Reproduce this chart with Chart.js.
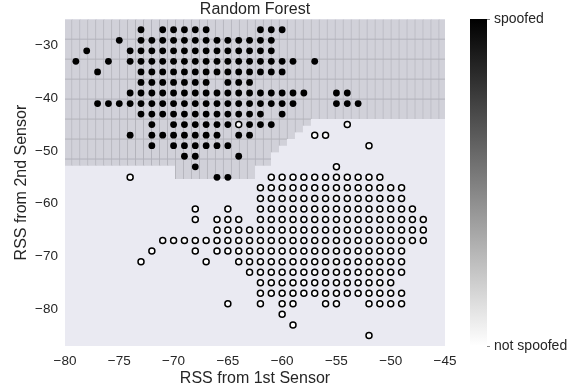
<!DOCTYPE html>
<html>
<head>
<meta charset="utf-8">
<script src="https://cdn.jsdelivr.net/npm/chart.js@4"></script>
<style>
  html, body { margin: 0; padding: 0; background: #fff; }
  #wrap { position: relative; width: 576px; height: 389px; }
  #mainChart { position: absolute; left: 0; top: 0; }
  #barChart { position: absolute; left: 460px; top: 0; }
</style>
</head>
<body>
<div id="wrap">
  <canvas id="mainChart" width="576" height="389"></canvas>
  <canvas id="barChart" width="116" height="389"></canvas>
</div>
<script>
// points classified as spoofed (filled), one list of x per row
const spoofedY = [-27, -29, -31, -33, -35, -37, -39, -41, -43, -45, -47, -49, -51, -53, -55];
const spoofedX = [
  [-73, -71, -70, -69, -68, -67, -62, -61, -60],
  [-75, -73, -72, -71, -70, -69, -68, -67, -66, -65, -64, -63, -62, -61],
  [-78, -74, -73, -72, -71, -70, -69, -68, -67, -66, -65, -64, -63, -62, -61],
  [-79, -76, -74, -73, -72, -71, -70, -69, -68, -67, -66, -65, -64, -63, -62, -61, -60, -59, -57],
  [-77, -73, -72, -71, -70, -69, -68, -67, -66, -65, -64, -63, -62, -61, -60],
  [-73, -72, -71, -70, -69, -68, -67, -65, -64, -63],
  [-74, -73, -72, -71, -70, -69, -68, -67, -66, -65, -64, -63, -62, -61, -60, -59, -58, -55, -54],
  [-77, -76, -75, -74, -73, -72, -71, -70, -69, -68, -67, -66, -65, -64, -63, -62, -61, -60, -59, -55, -54, -53],
  [-73, -72, -71, -70, -69, -68, -67, -66, -65, -64, -63, -62, -60],
  [-72, -70, -69, -68, -67, -66, -65, -63, -62, -61],
  [-74, -72, -71, -70, -69, -68, -67, -66, -64, -63],
  [-72, -70, -69, -68, -67, -66, -65],
  [-69, -68, -64],
  [-68],
  [-66, -65]
];

// points classified as not spoofed (hollow)
const genuineY = [-45, -47, -49, -53, -55, -57, -59, -61, -63, -65, -67, -69, -71, -73, -75, -77, -79, -81, -83, -85];
const genuineX = [
  [-64, -54],
  [-57, -56],
  [-52],
  [-55],
  [-74, -61, -60, -59, -58, -57, -56, -55, -54, -53, -52, -51],
  [-62, -61, -60, -59, -58, -57, -56, -55, -54, -53, -52, -51, -50, -49],
  [-62, -61, -60, -59, -58, -57, -56, -55, -54, -53, -52, -51, -50, -49],
  [-68, -65, -62, -61, -60, -59, -58, -57, -56, -55, -54, -53, -52, -51, -50, -49, -48],
  [-68, -66, -65, -64, -62, -61, -60, -59, -58, -57, -56, -55, -54, -53, -52, -51, -50, -49, -48, -47],
  [-66, -65, -64, -63, -62, -61, -60, -59, -58, -57, -56, -55, -54, -53, -52, -51, -50, -49, -48, -47],
  [-71, -70, -69, -68, -67, -66, -65, -64, -63, -62, -61, -60, -59, -58, -57, -56, -55, -54, -53, -52, -51, -50, -49, -48, -47],
  [-72, -68, -66, -65, -64, -63, -62, -61, -60, -59, -58, -57, -56, -55, -54, -53, -52, -51, -50, -49],
  [-73, -67, -64, -63, -62, -61, -60, -59, -58, -57, -56, -55, -54, -53, -52, -51, -50, -49],
  [-63, -62, -61, -60, -59, -58, -57, -56, -55, -54, -53, -52, -51, -50, -49],
  [-62, -61, -60, -59, -58, -57, -56, -55, -54, -53, -52, -51, -50],
  [-62, -61, -60, -59, -58, -57, -56, -55, -54, -53, -52, -51, -50, -49],
  [-65, -62, -60, -59, -56, -55, -52, -51, -50, -49],
  [-60],
  [-59],
  [-52]
];

// decision surface: mesh column edges and lower edge of the "spoofed" area per column
const meshEdges = [-80.135, -79.4, -78.665, -77.93, -77.195, -76.46, -75.725, -74.99, -74.255, -73.52,
  -72.785, -72.05, -71.315, -70.58, -69.845, -69.11, -68.375, -67.64, -66.905, -66.17,
  -65.435, -64.7, -63.965, -63.23, -62.495, -61.76, -61.025, -60.29, -59.555, -58.82,
  -58.085, -57.35, -56.615, -55.88, -55.145, -54.41, -53.675, -52.94, -52.205, -51.47,
  -50.735, -50.0, -49.265, -48.53, -47.795, -47.06, -46.325, -45.59, -44.855];
const spoofBottom = [-52.79, -52.79, -52.79, -52.79, -52.79, -52.79, -52.79, -52.79, -52.79, -52.79,
  -52.79, -52.79, -52.79, -52.79, -55.32, -55.32, -55.32, -55.32, -55.32, -55.32,
  -55.32, -55.32, -55.32, -55.32, -52.79, -52.79, -50.27, -49.0, -47.74, -46.48,
  -45.21, -43.95, -43.95, -43.95, -43.95, -43.95, -43.95, -43.95, -43.95, -43.95,
  -43.95, -43.95, -43.95, -43.95, -43.95, -43.95, -43.95, -43.95];
const spoofTop = -25;
// horizontal mesh seams inside the spoofed area
const seamY = [-28.79, -32.58, -36.37, -40.16, -43.95, -47.74, -51.53];
const seamRight = [-45, -45, -45, -45, -57.35, -59.555, -61.025];

const xTicks = [-80, -75, -70, -65, -60, -55, -50, -45];
const yTicks = [-80, -70, -60, -50, -40, -30];
const barTicks = [0, 1];
const barLabels = ['not spoofed', 'spoofed'];

const FONT = "'Liberation Sans', Arial, sans-serif";
const TXT = '#262626';
const MESH_FILL = '#d1d1d9';
const MESH_LINE = '#b3b3bb';

Chart.defaults.font.family = FONT;
Chart.defaults.color = TXT;

function toPoints(ys, xs) {
  const pts = [];
  ys.forEach((y, i) => xs[i].forEach((x) => pts.push({ x: x, y: y })));
  return pts;
}
const minus = (v) => String(v).replace('-', '\u2212');

const meshCols = spoofBottom.map((b, i) => ({
  x: (meshEdges[i] + meshEdges[i + 1]) / 2,
  y: [b, spoofTop],
}));

const seamSets = seamY.map((y, i) => ({
  type: 'line',
  data: [{ x: -80, y: y }, { x: seamRight[i], y: y }],
  borderColor: MESH_LINE,
  borderWidth: 1,
  pointRadius: 0,
  order: 4,
}));

const plotBg = {
  id: 'plotBg',
  beforeDraw(chart) {
    const { ctx, chartArea: a } = chart;
    ctx.save();
    ctx.fillStyle = '#eaeaf2';
    ctx.fillRect(a.left, a.top, a.width, a.height);
    ctx.restore();
  },
};

const mainChart = new Chart(document.getElementById('mainChart'), {
  type: 'scatter',
  data: {
    datasets: [
      {
        type: 'bar',
        data: meshCols,
        backgroundColor: MESH_FILL,
        borderColor: MESH_LINE,
        borderWidth: { left: 1, right: 0, top: 0, bottom: 0 },
        borderSkipped: false,
        barPercentage: 1,
        categoryPercentage: 1,
        grouped: false,
        order: 5,
      },
      ...seamSets,
      {
        label: 'not spoofed',
        data: toPoints(genuineY, genuineX),
        pointRadius: 3,
        pointBackgroundColor: '#ffffff',
        pointBorderColor: '#000000',
        pointBorderWidth: 1.5,
        order: 2,
      },
      {
        label: 'spoofed',
        data: toPoints(spoofedY, spoofedX),
        pointRadius: 3.4,
        pointBackgroundColor: '#000000',
        pointBorderWidth: 0,
        order: 1,
      },
    ],
  },
  options: {
    responsive: false,
    animation: false,
    devicePixelRatio: 1,
    layout: { padding: { left: 0, right: 131, top: 0, bottom: 0 } },
    plugins: {
      legend: { display: false },
      tooltip: { enabled: false },
      title: {
        display: true,
        text: 'Random Forest',
        fullSize: false,
        color: TXT,
        font: { size: 16, weight: 'normal' },
        padding: { top: 0, bottom: 0 },
      },
    },
    scales: {
      x: {
        type: 'linear',
        min: -80,
        max: -45,
        offset: false,
        grid: { display: false, drawTicks: false, offset: false },
        border: { display: false },
        afterBuildTicks: (s) => { s.ticks = xTicks.map((v) => ({ value: v })); },
        afterFit: (s) => { s.height = 43; },
        ticks: { padding: 7, font: { size: 13.5 }, color: TXT, callback: (v) => minus(v), maxRotation: 0 },
        title: {
          display: true,
          text: 'RSS from 1st Sensor',
          font: { size: 16 },
          color: TXT,
          padding: { top: 0, bottom: 1 },
        },
      },
      y: {
        type: 'linear',
        min: -87,
        max: -25,
        grid: { display: false, drawTicks: false },
        border: { display: false },
        afterBuildTicks: (s) => { s.ticks = yTicks.map((v) => ({ value: v })); },
        afterFit: (s) => { s.width = 65; },
        ticks: { padding: 7, font: { size: 13.5 }, color: TXT, callback: (v) => minus(v) },
        title: {
          display: true,
          text: 'RSS from 2nd Sensor',
          font: { size: 16 },
          color: TXT,
          padding: { top: 12, bottom: 0 },
        },
      },
    },
  },
  plugins: [plotBg],
});

// colour bar
const colorBar = new Chart(document.getElementById('barChart'), {
  type: 'bar',
  data: {
    labels: [''],
    datasets: [
      {
        data: [[barTicks[0], barTicks[1]]],
        barPercentage: 1,
        categoryPercentage: 1,
        borderWidth: 0,
        backgroundColor: (c) => {
          const area = c.chart.chartArea;
          if (!area) return '#000';
          const g = c.chart.ctx.createLinearGradient(0, area.bottom, 0, area.top);
          g.addColorStop(0, '#ffffff');
          g.addColorStop(1, '#000000');
          return g;
        },
      },
    ],
  },
  options: {
    responsive: false,
    animation: false,
    devicePixelRatio: 1,
    layout: { padding: { left: 10, right: 0, top: 19, bottom: 43 } },
    plugins: { legend: { display: false }, tooltip: { enabled: false } },
    scales: {
      x: { display: false },
      y: {
        position: 'right',
        min: 0,
        max: 1,
        grid: { drawOnChartArea: false, drawTicks: true, tickLength: 3, color: '#888' },
        border: { display: false },
        afterBuildTicks: (s) => { s.ticks = barTicks.map((v) => ({ value: v })); },
        afterFit: (s) => { s.width = 89; },
        ticks: {
          padding: 4,
          font: { size: 14 },
          color: TXT,
          callback: (v) => barLabels[barTicks.indexOf(v)],
        },
      },
    },
  },
});
</script>
</body>
</html>
